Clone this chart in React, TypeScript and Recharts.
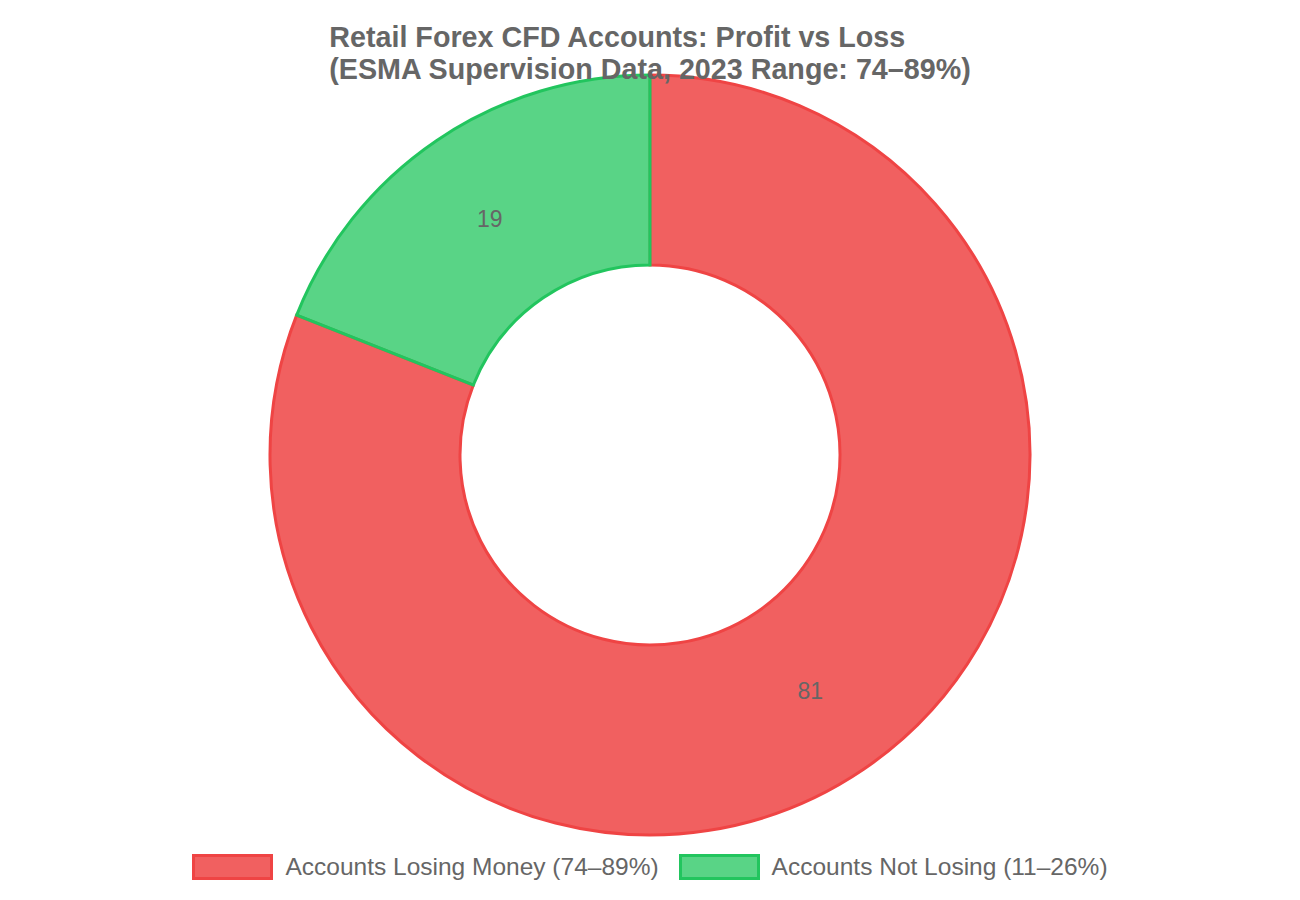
import { Cell, Legend, Pie, PieChart } from "recharts";

const categories = ["Accounts Losing Money (74–89%)", "Accounts Not Losing (11–26%)"];
const values = [81, 19];
const fills = ["rgba(239, 68, 68, 0.85)", "rgba(34, 197, 94, 0.75)"];
const borders = ["#ef4444", "#22c55e"];
const titleLines = [
  "Retail Forex CFD Accounts: Profit vs Loss",
  "(ESMA Supervision Data, 2023 Range: 74–89%)",
];

const data = categories.map((name, i) => ({ name, value: values[i] }));
const FONT = '"Liberation Sans", Arial, sans-serif';
const RADIAN = Math.PI / 180;

function SliceLabel({ cx, cy, midAngle, innerRadius, outerRadius, value }: any) {
  const r = (innerRadius + outerRadius) / 2;
  const x = cx + r * Math.cos(-midAngle * RADIAN);
  const y = cy + r * Math.sin(-midAngle * RADIAN);
  return (
    <text x={x} y={y} fill="#666" fontSize={23} fontFamily={FONT}
      textAnchor="middle" dominantBaseline="central">
      {value}
    </text>
  );
}

function LegendRow() {
  return (
    <div style={{ display: "flex", justifyContent: "center", gap: 20, fontFamily: FONT }}>
      {categories.map((c, i) => (
        <div key={c} style={{ display: "flex", alignItems: "center" }}>
          <span style={{
            display: "inline-block", width: 75, height: 20, background: fills[i],
            border: `3px solid ${borders[i]}`, marginRight: 12,
          }} />
          <span style={{ fontSize: 24.5, color: "#666" }}>{c}</span>
        </div>
      ))}
    </div>
  );
}

export default function App() {
  return (
    <div style={{ position: "absolute", left: 0, top: 0, width: 1300, height: 900, background: "#fff" }}>
      <PieChart width={1300} height={900} margin={{ top: 0, right: 0, bottom: 0, left: 0 }}>
        <Pie
          data={data} dataKey="value" nameKey="name"
          cx={650} cy={455} innerRadius={190} outerRadius={380}
          startAngle={90} endAngle={-270}
          label={SliceLabel} labelLine={false}
          isAnimationActive={false}
        >
          {data.map((d, i) => (
            <Cell key={d.name} fill={fills[i]} stroke={borders[i]} strokeWidth={3} />
          ))}
        </Pie>
        <Legend
          content={() => <LegendRow />}
          wrapperStyle={{ top: 853, left: 0, width: 1300 }}
        />
      </PieChart>
      <div style={{
        position: "absolute", left: 0, top: 21, width: 1300, display: "flex",
        justifyContent: "center", pointerEvents: "none",
      }}>
        <div style={{ fontFamily: FONT, fontWeight: "bold", fontSize: 28.7, color: "#666", lineHeight: "32px" }}>
          {titleLines.map((t) => <div key={t}>{t}</div>)}
        </div>
      </div>
    </div>
  );
}
